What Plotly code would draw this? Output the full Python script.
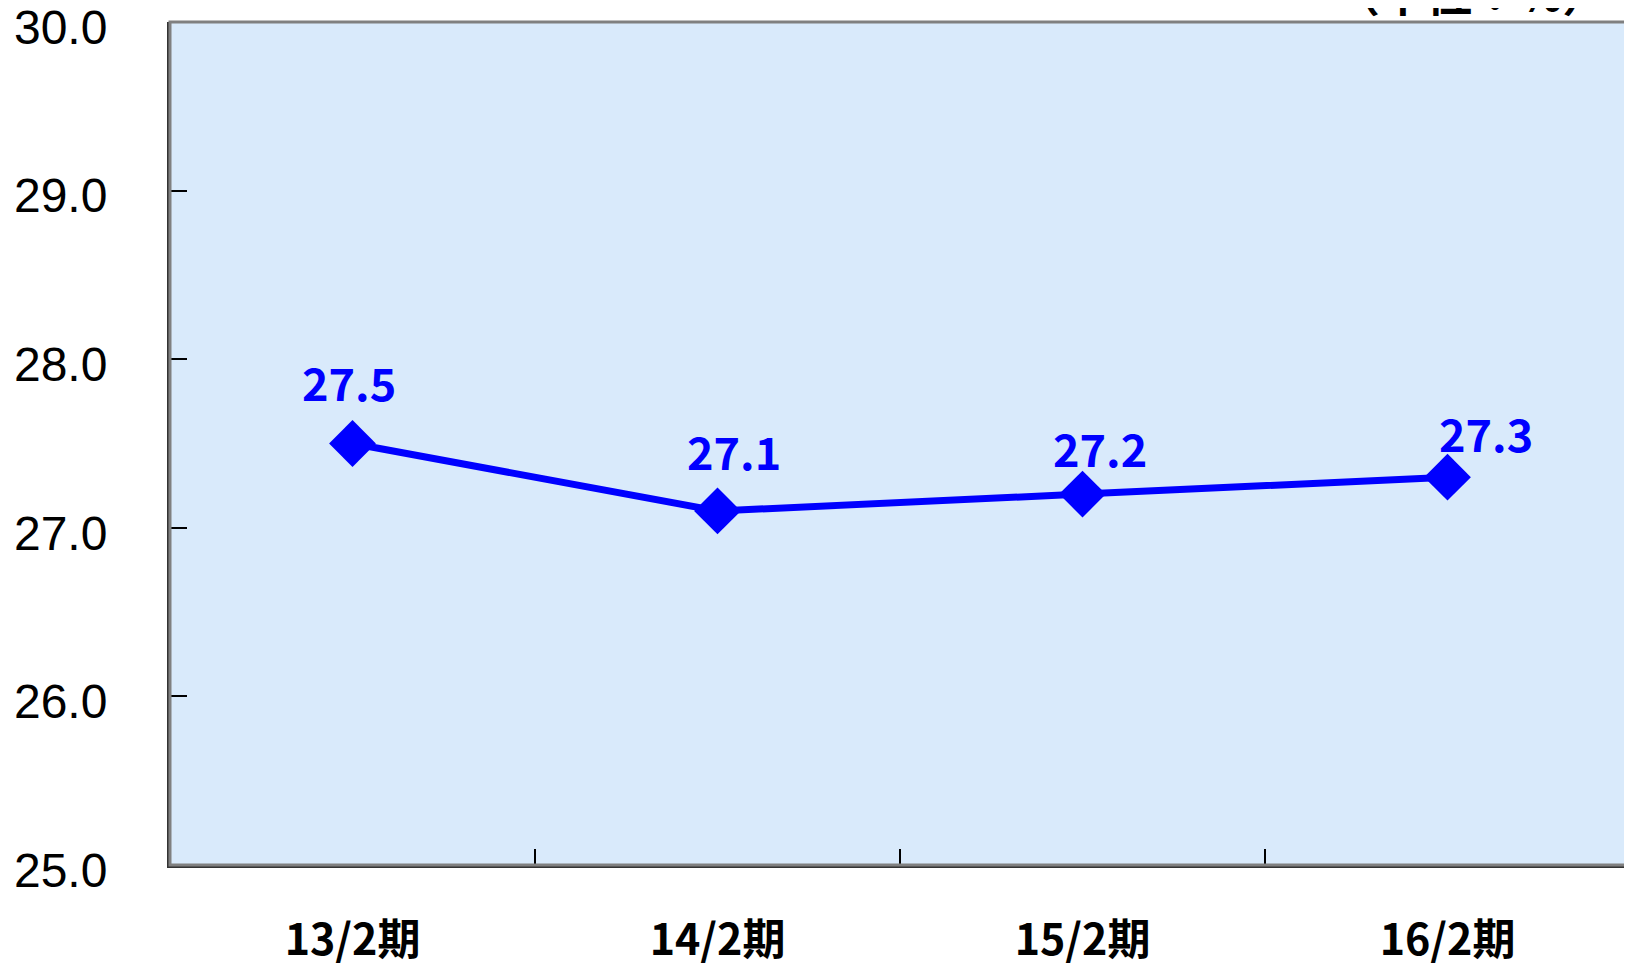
import plotly.graph_objects as go

categories = ["13/2期", "14/2期", "15/2期", "16/2期"]
values = [27.5, 27.1, 27.2, 27.3]
value_labels = ["27.5", "27.1", "27.2", "27.3"]
y_ticks = [25.0, 26.0, 27.0, 28.0, 29.0, 30.0]
y_tick_labels = ["25.0", "26.0", "27.0", "28.0", "29.0", "30.0"]
unit_label = "（単位：%）"

# label offsets (style)
label_xshift = [-4, 16, 17, 38]
label_yshift = [62, 60, 47, 45]

BLUE = "#0000FF"

fig = go.Figure()
fig.add_trace(go.Scatter(
    x=categories, y=values, mode="lines+markers",
    line=dict(color=BLUE, width=7),
    marker=dict(symbol="diamond", size=36, color=BLUE),
    hoverinfo="skip", showlegend=False,
))

annotations = []
for c, v, t, xs, ys in zip(categories, values, value_labels, label_xshift, label_yshift):
    annotations.append(dict(
        x=c, y=v, xref="x", yref="y", text=t, showarrow=False,
        xshift=xs, yshift=ys, xanchor="center", yanchor="middle",
        font=dict(family="Noto Sans CJK JP", size=45, color=BLUE, weight="bold"),
    ))
annotations.append(dict(
    x=0.9863, y=1, xref="paper", yref="paper", text=unit_label, showarrow=False,
    xanchor="right", yanchor="bottom", yshift=-4,
    font=dict(family="Noto Sans CJK JP", size=46, color="#000000", weight="bold"),
))

fig.update_layout(
    width=1624, height=957,
    margin=dict(l=162, r=2, t=14, b=100, autoexpand=False),
    paper_bgcolor="#FFFFFF",
    plot_bgcolor="#d9eafb",
    annotations=annotations,
    shapes=[dict(type="rect", xref="paper", yref="paper", x0=0, y0=0, x1=1, y1=1,
                 line=dict(color="#808080", width=3), layer="above")],
)
fig.update_xaxes(
    type="category", range=[-0.5, 3.5], automargin=False,
    showgrid=False, zeroline=False,
    showline=True, linecolor="#333333", linewidth=3,
    ticks="inside", tickson="boundaries", ticklen=16, tickwidth=1.5, tickcolor="#000000",
    tickfont=dict(family="Noto Sans CJK JP", size=43, color="#000000", weight="bold"),
    ticklabelstandoff=35,
)
fig.update_yaxes(
    range=[25, 30], tickvals=y_ticks, ticktext=y_tick_labels, automargin=False,
    showgrid=False, zeroline=False, ticklabeloverflow="allow",
    showline=True, linecolor="#333333", linewidth=3,
    ticks="inside", ticklen=17, tickwidth=2, tickcolor="#000000",
    tickfont=dict(family="Liberation Sans", size=48, color="#000000"),
    ticklabelstandoff=50, ticklabelshift=5,
)

fig.write_html("out.html")
